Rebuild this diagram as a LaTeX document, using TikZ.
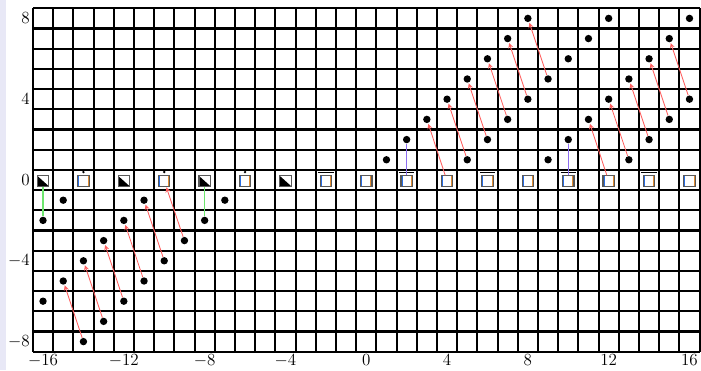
\documentclass[tikz,border=0pt]{standalone}
\usepackage{amsmath, amssymb}
\usepackage{xcolor}
\usepackage{tikz}
\usetikzlibrary{arrows,calc}

\definecolor{pagelav}{RGB}{232,232,246}
\definecolor{linkred}{RGB}{255,95,95}
\definecolor{linkgreen}{RGB}{110,230,110}
\definecolor{linkpurple}{RGB}{140,110,240}
\definecolor{sideblue}{RGB}{40,110,230}
\definecolor{sideorange}{RGB}{225,140,50}

\begin{document}
\begin{tikzpicture}[x=0.5cm, y=0.5cm,
    gridline/.style={line width=1.45pt, black},
    pt/.style={circle, fill=black, inner sep=0pt, minimum size=5.2pt},
    glyph/.style={draw=gray!70!black, line width=0.8pt, fill=white, inner sep=0pt,
        minimum width=8pt, minimum height=7.2pt,
        path picture={
            \draw[sideblue, line width=2.2pt] (path picture bounding box.south west) -- (path picture bounding box.north west);
            \draw[sideorange, line width=2.2pt] (path picture bounding box.south east) -- (path picture bounding box.north east);
        }},
    tri/.style={draw=gray!70!black, line width=0.8pt, fill=white, inner sep=0pt,
        minimum width=8pt, minimum height=7.2pt,
        path picture={
            \fill[black] (path picture bounding box.north west) -- (path picture bounding box.south east) -- (path picture bounding box.south west) -- cycle;
        }},
    link/.style={->, >=stealth, linkred, line width=0.6pt, shorten >=0.5pt},
    tie/.style={line width=0.8pt},
    lbl/.style={font=\large, inner sep=2pt}
]

\useasboundingbox (-18.13,-9.41) rectangle (16.57,8.91);
\fill[pagelav] (-18.13,-9.41) rectangle (-17.83,8.91);

% Grid
\foreach \x in {-16.5,-15.5,...,16.5}
    \draw[gridline] (\x,-8.5) -- (\x,8.5);
\foreach \y in {-8.5,-7.5,...,8.5}
    \draw[gridline] (-16.5,\y) -- (16.5,\y);

% Axis labels
\foreach \y in {-8,-4,0,4,8}
    \node[lbl, anchor=east] (ly\y) at (-16.5,\y) {$\y$};
\foreach \x in {-16,-12,...,16}
    \node[lbl, anchor=north] (lx\x) at (\x,-8.5) {$\x$};

% Row 0 glyphs
\foreach \x in {-16,-12,-8,-4}
    \node[tri] (b\x) at (\x,-0.05) {};
\foreach \x in {-14,-10,-6,-2,0,2,...,16}
    \node[glyph] (b\x) at (\x,-0.05) {};
\foreach \x in {-14,-10,-6}
    \fill ($(b\x.north)+(0,2.3pt)$) circle (0.95pt);
\foreach \x in {-2,2,6,10,14}
    \draw[line width=0.7pt] ($(b\x.north west)+(-1pt,1.9pt)$) -- ($(b\x.north east)+(1pt,1.9pt)$);

% Points
\foreach \x/\y in {-16/-2,-16/-6,-15/-1,-15/-5,-14/-4,-14/-8,-13/-3,-13/-7,
                   -12/-2,-12/-6,-11/-1,-11/-5,-10/-4,-9/-3,-8/-2,-7/-1,
                   1/1,2/2,3/3,4/4,5/5,5/1,6/6,6/2,7/7,7/3,8/8,8/4,
                   9/5,9/1,10/6,10/2,11/7,11/3,12/8,12/4,
                   13/5,13/1,14/6,14/2,15/7,15/3,16/8,16/4}
    \node[pt] (d\x y\y) at (\x,\y) {};

% Vertical ties
\draw[tie, linkgreen] (b-16) -- (d-16y-2);
\draw[tie, linkgreen] (b-8) -- (d-8y-2);
\draw[tie, linkpurple] (d2y2) -- (b2);
\draw[tie, linkpurple] (d10y2) -- (b10);

% Shift arrows
\foreach \a/\b in {d-14y-8/d-15y-5, d-13y-7/d-14y-4, d-12y-6/d-13y-3,
                   d-11y-5/d-12y-2, d-10y-4/d-11y-1, d-9y-3/b-10,
                   b4/d3y3, d5y1/d4y4, d6y2/d5y5, d7y3/d6y6, d8y4/d7y7, d9y5/d8y8,
                   b12/d11y3, d13y1/d12y4, d14y2/d13y5, d15y3/d14y6, d16y4/d15y7}
    \draw[link] (\a) -- (\b);

\end{tikzpicture}
\end{document}
